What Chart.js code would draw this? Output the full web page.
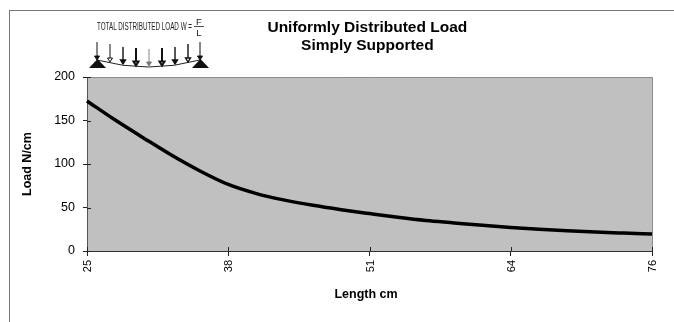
<!DOCTYPE html>
<html>
<head>
<meta charset="utf-8">
<script src="https://cdn.jsdelivr.net/npm/chart.js@4"></script>
<style>
    html, body { margin: 0; padding: 0; background: #fff; }
    #wrap { position: relative; width: 674px; height: 322px; overflow: hidden; }
    #frame { position: absolute; left: 9px; top: 10px; width: 665px; height: 312px; border-left: 1px solid #777; border-top: 1px solid #777; box-sizing: border-box; }
    canvas { position: absolute; left: 0; top: 0; }
    svg { position: absolute; left: 0; top: 0; }
</style>
</head>
<body>
<div id="wrap">
    <div id="frame"></div>
    <canvas id="load" width="674" height="322"></canvas>
    <svg id="beam" width="674" height="80" font-family="'Liberation Sans Narrow', 'Liberation Sans', sans-serif" font-size="10" fill="#222">
        <text x="97" y="30" textLength="95" lengthAdjust="spacingAndGlyphs">TOTAL DISTRIBUTED LOAD W =</text>
        <text x="199" y="24.5" text-anchor="middle" font-size="9.5">F</text>
        <line x1="194" y1="26.5" x2="204" y2="26.5" stroke="#222" stroke-width="0.8"></line>
        <text x="199" y="36" text-anchor="middle" font-size="9.5">L</text>
        <path d="M97 60 Q148.5 74 200 60" fill="none" stroke="#222" stroke-width="1"></path>
        <path d="M89 68 L97.5 59 L106 68 Z" fill="#111"></path>
        <path d="M192 68 L200.5 59 L209 68 Z" fill="#111"></path>
    </svg>
</div>
<script>
// lengths in cm, every 5th one gets a label on the axis
const lengths = [25, 28, 30, 33, 35, 38, 41, 43, 46, 48, 51, 54, 56, 59, 61, 64, 66, 69, 71, 74, 76];
const loads = [172.5, 150.5, 130, 110, 92, 76.5, 66, 58.5, 52.5, 47.5, 43, 38.7, 35, 32.3, 29.5, 27, 25, 23.3, 21.8, 20.6, 19.5];
const yTicks = [0, 50, 100, 150, 200];
// trailing spaces move the centred text a little left, the original is not quite over the plot
const titleLines = ['Uniformly Distributed Load ', 'Simply Supported '];
const xTitle = 'Length cm  ';
const yTitle = 'Load N/cm';

// load arrows of the little beam sketch
const arrowX = [97, 110, 123, 136, 149, 162, 175, 188, 200];
const arrowTop = [42, 44, 47, 48, 49, 48, 47, 44, 42];
const arrowEnd = [60, 62, 64, 65.5, 66, 65.5, 64, 62, 60];
const arrowWidth = [1, 1, 1.4, 2, 0.9, 2, 1.4, 1.4, 1];

let svg = document.getElementById('beam');
arrowX.forEach((x, i) => {
    let col = i === 4 ? '#777' : '#111';
    let y = arrowEnd[i];
    let p = document.createElementNS('http://www.w3.org/2000/svg', 'path');
    p.setAttribute('d', 'M' + x + ' ' + arrowTop[i] + ' L' + x + ' ' + (y - 4) + ' M' + (x - 2.5) + ' ' + (y - 4) + ' L' + x + ' ' + y + ' L' + (x + 2.5) + ' ' + (y - 4) + ' Z');
    p.setAttribute('stroke', col);
    p.setAttribute('stroke-width', arrowWidth[i]);
    p.setAttribute('fill', i % 2 ? '#fff' : col);
    svg.appendChild(p);
});

// grey plot background + the part of the ticks that sits inside the plot
const plotBack = {
    id: 'plotBack',
    beforeDraw(chart) {
        let a = chart.chartArea, c = chart.ctx;
        c.save();
        c.fillStyle = '#C0C0C0';
        c.fillRect(a.left, a.top, a.width, a.height);
        c.strokeStyle = '#8a8a8a';
        c.lineWidth = 1;
        c.beginPath();
        c.moveTo(a.left, a.top + 0.5);
        c.lineTo(a.right + 0.5, a.top + 0.5);
        c.lineTo(a.right + 0.5, a.bottom);
        c.stroke();
        c.restore();
    },
    afterDatasetsDraw(chart) {
        let a = chart.chartArea, c = chart.ctx;
        c.save();
        c.strokeStyle = '#222';
        c.lineWidth = 1;
        c.beginPath();
        chart.scales.y.ticks.forEach((t, i) => {
            let py = Math.round(chart.scales.y.getPixelForTick(i)) + 0.5;
            c.moveTo(a.left, py);
            c.lineTo(a.left + 4, py);
        });
        chart.scales.x.ticks.forEach((t, i) => {
            let px = Math.round(chart.scales.x.getPixelForTick(i)) + 0.5;
            c.moveTo(px, a.bottom);
            c.lineTo(px, a.bottom - 4);
        });
        c.stroke();
        c.restore();
    }
};

let ctx = document.getElementById('load').getContext('2d');
let loadChart = new Chart(ctx, {
    type: 'line',
    data: {
        labels: lengths,
        datasets: [{
            data: loads,
            borderColor: '#000',
            borderWidth: 3.5,
            pointRadius: 0,
            cubicInterpolationMode: 'monotone'
        }]
    },
    options: {
        responsive: false,
        animation: false,
        layout: { padding: { left: 20, right: 22, top: 19, bottom: 20 } },
        plugins: {
            legend: { display: false },
            tooltip: { enabled: false },
            title: {
                display: true,
                text: titleLines,
                fullSize: false,
                color: '#000',
                font: { family: "'Liberation Sans', Arial, sans-serif", size: 15.5, weight: 'bold', lineHeight: 1.13 },
                padding: { top: 0, bottom: 23 }
            }
        },
        scales: {
            x: {
                type: 'category',
                offset: false,
                afterBuildTicks(scale) {
                    scale.ticks = scale.ticks.filter((t, i) => i % 5 === 0);
                },
                afterFit(scale) { scale.height = 51; },
                grid: { drawOnChartArea: false, tickLength: 5, tickColor: '#222' },
                border: { color: '#333', width: 1 },
                ticks: {
                    autoSkip: false,
                    minRotation: 90,
                    maxRotation: 90,
                    padding: 4,
                    labelOffset: 1,
                    color: '#000',
                    font: { family: "'Liberation Sans', Arial, sans-serif", size: 11 }
                },
                title: {
                    display: true,
                    text: xTitle,
                    color: '#000',
                    padding: { top: 9, bottom: 0 },
                    font: { family: "'Liberation Sans', Arial, sans-serif", size: 12.5, weight: 'bold' }
                }
            },
            y: {
                min: 0,
                max: 200,
                afterBuildTicks(scale) {
                    scale.ticks = yTicks.map(v => ({ value: v }));
                },
                afterFit(scale) { scale.width = 67; },
                grid: { drawOnChartArea: false, tickLength: 4, tickColor: '#222' },
                border: { color: '#555', width: 1 },
                ticks: {
                    padding: 8,
                    color: '#000',
                    font: { family: "'Liberation Sans', Arial, sans-serif", size: 12.5 }
                },
                title: {
                    display: true,
                    text: yTitle,
                    color: '#000',
                    padding: { top: 0, bottom: 0 },
                    font: { family: "'Liberation Sans', Arial, sans-serif", size: 12.5, weight: 'bold' }
                }
            }
        }
    },
    plugins: [plotBack]
});
</script>
</body>
</html>
